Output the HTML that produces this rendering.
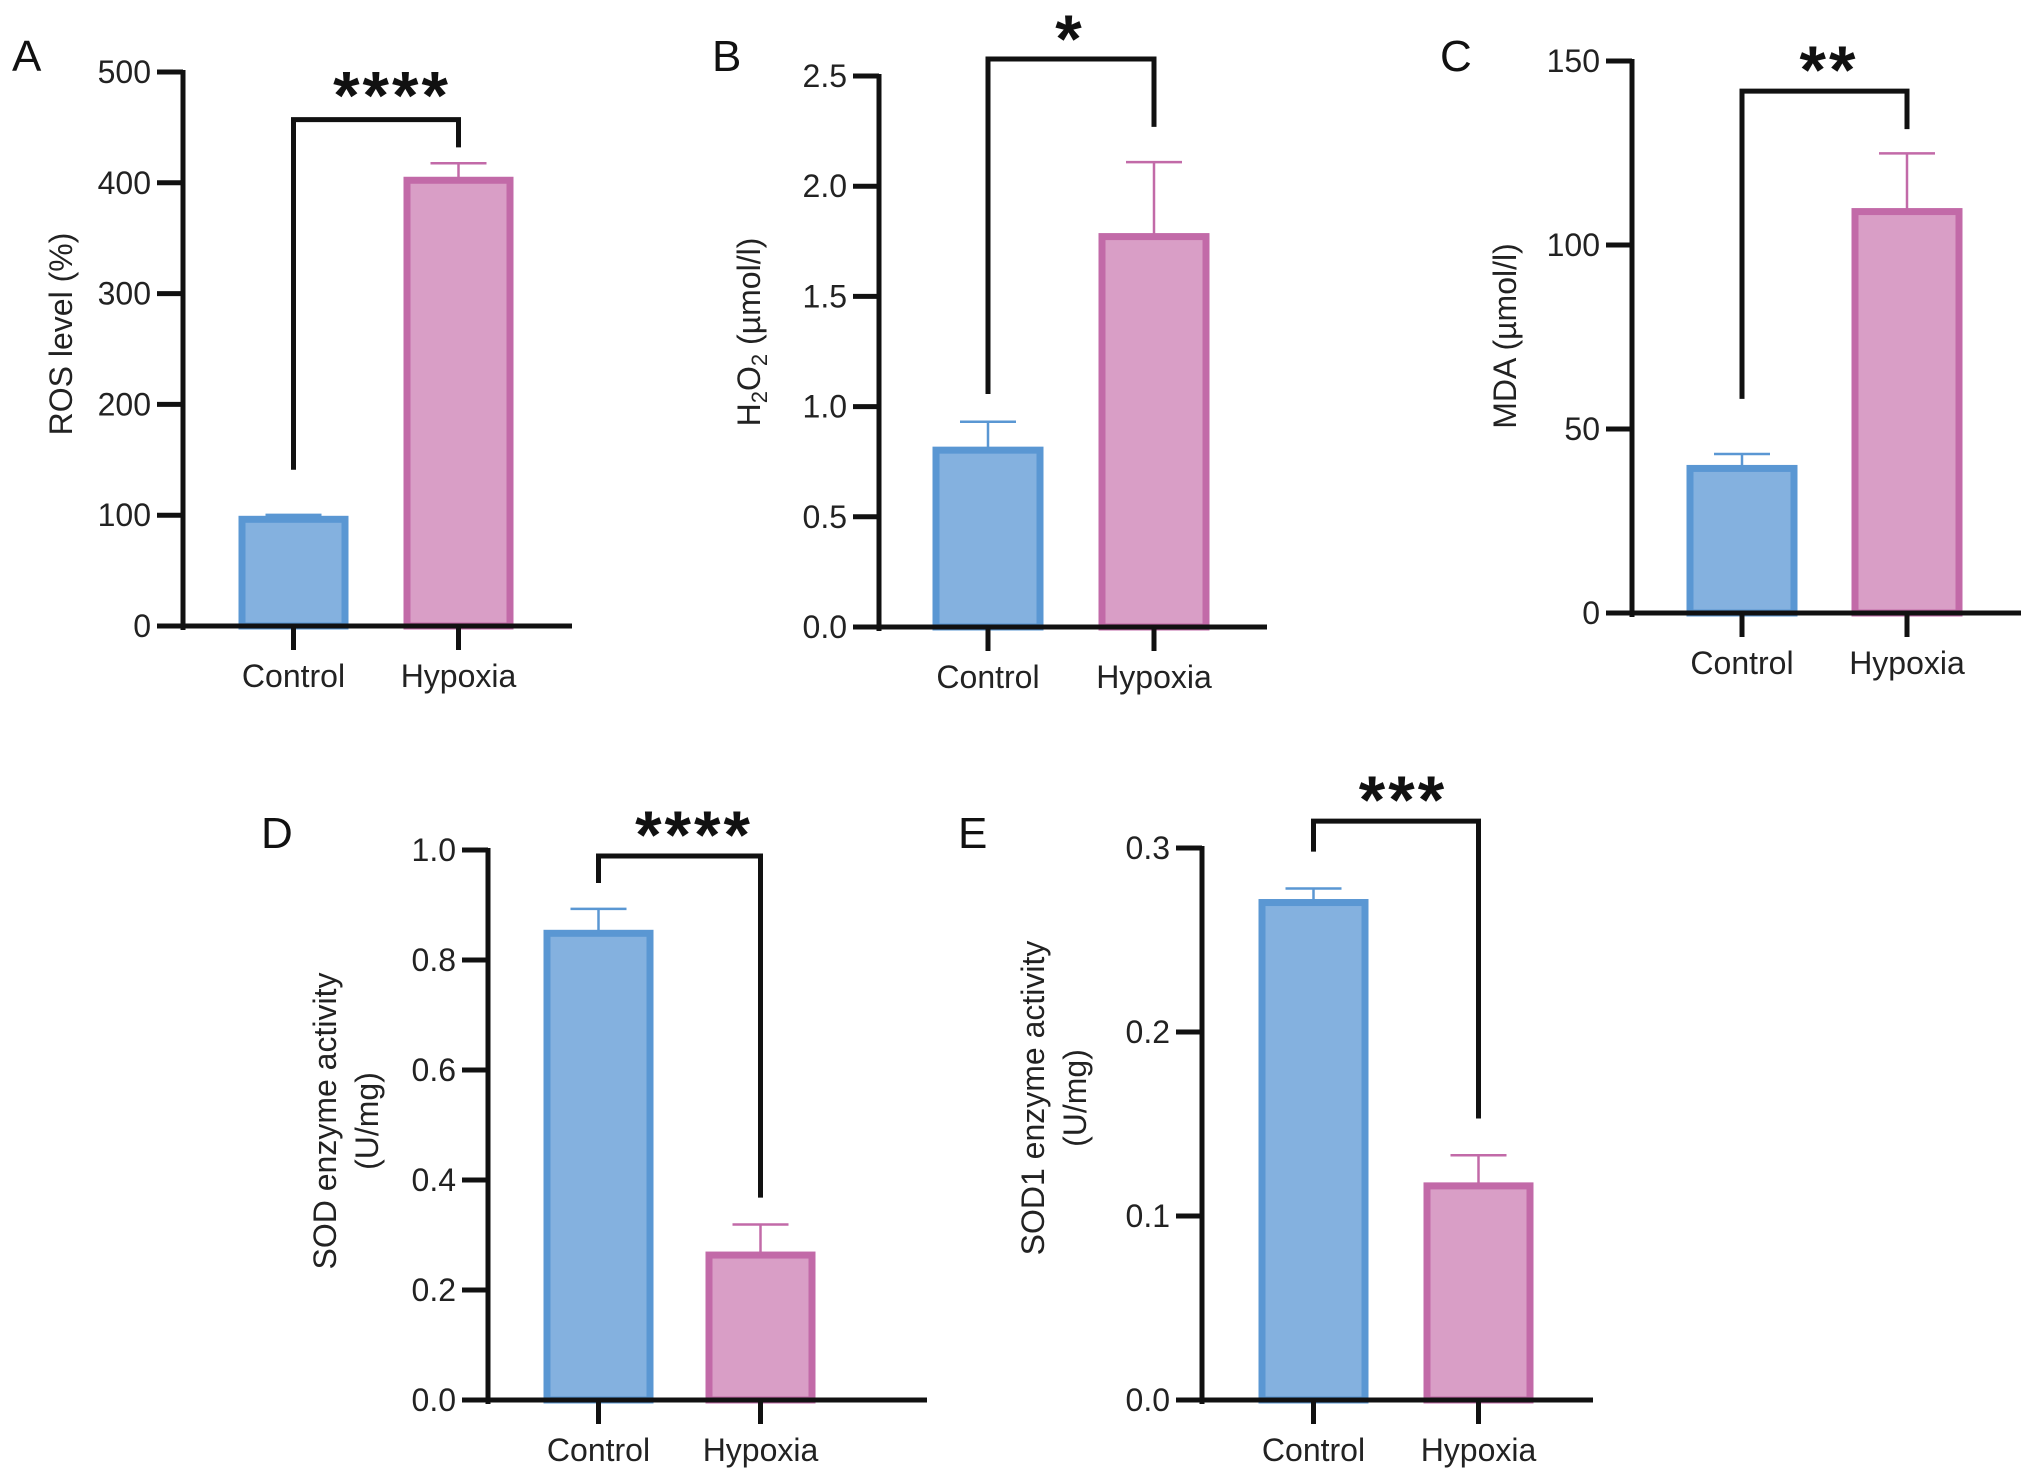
<!DOCTYPE html>
<html><head><meta charset="utf-8"><style>
html,body{margin:0;padding:0;background:#fff}
svg{display:block;font-family:"Liberation Sans",Arial,sans-serif}
</style></head><body>
<svg id="fig" width="2032" height="1481" viewBox="0 0 2032 1481" xmlns="http://www.w3.org/2000/svg"></svg>
<script>
const categories = ["Control", "Hypoxia"];
// Panel A
const aValues = [99, 405];
const aErrors = [100.3, 417.6];
const aTicks = [0, 100, 200, 300, 400, 500];
// Panel B
const bValues = [0.816, 1.785];
const bErrors = [0.931, 2.109];
const bTicks = [0, 0.5, 1.0, 1.5, 2.0, 2.5];
// Panel C
const cValues = [40.1, 109.9];
const cErrors = [43.2, 124.9];
const cTicks = [0, 50, 100, 150];
// Panel D
const dValues = [0.854, 0.269];
const dErrors = [0.893, 0.319];
const dTicks = [0, 0.2, 0.4, 0.6, 0.8, 1.0];
// Panel E
const eValues = [0.272, 0.118];
const eErrors = [0.278, 0.133];
const eTicks = [0, 0.1, 0.2, 0.3];

const NS = "http://www.w3.org/2000/svg";
const svg = document.getElementById('fig');
function mk(tag, attrs, parent) {
  const e = document.createElementNS(NS, tag);
  for (const k in attrs) e.setAttribute(k, attrs[k]);
  (parent || svg).appendChild(e);
  return e;
}
const fillC = ["#84b1df", "#d99ec6"], strokeC = ["#5a97d3", "#c26aa8"];

function panel(p) {
  const g = mk('g', {});
  
  
  const y = v => p.y0 - (v - 0) / p.max * (p.y0 - p.yTop);
  const L = mk('text', {x: p.lx, y: p.ly + 16, 'font-size': 44, fill: '#111'}, g);
  L.textContent = p.id;
  
  
  p.values.forEach((v, i) => {
    const bx = p.barX[i], bw = p.barW;
    const top = y(v);
    const r = mk('rect', {x: bx + 3, y: top + 3, width: bw - 6, height: p.y0 - top - 3, fill: fillC[i], stroke: strokeC[i], 'stroke-width': 7}, g);
    
    
    const cx = bx + bw / 2, et = y(p.errors[i]);
    const eg = mk('g', {stroke: strokeC[i], 'stroke-width': 2.5}, g);
    
    
    mk('line', {x1: cx, x2: cx, y1: top, y2: et}, eg);
    mk('line', {x1: cx - 28, x2: cx + 28, y1: et, y2: et}, eg);
  });
  const ax = mk('g', {stroke: '#111', 'stroke-width': 5, fill: 'none'}, g);
  
  
  mk('line', {x1: p.ax, x2: p.ax, y1: p.yTop - 2, y2: p.y0 + 4}, ax);
  mk('line', {x1: p.ax - 2, x2: p.xEnd, y1: p.y0, y2: p.y0}, ax);
  p.ticks.forEach(t => {
    mk('line', {x1: p.ax - 26, x2: p.ax, y1: y(t), y2: y(t)}, ax);
    const tl = mk('text', {x: p.ax - 32, y: y(t) + 11, 'font-size': 32, 'text-anchor': 'end', fill: '#222'}, g);
    tl.textContent = p.fmt(t);
    
    
  });
  categories.forEach((c, i) => {
    const cx = p.barX[i] + p.barW / 2;
    mk('line', {x1: cx, x2: cx, y1: p.y0, y2: p.y0 + 24}, ax);
    const cl = mk('text', {x: cx, y: p.y0 + 61, 'font-size': 32, 'text-anchor': 'middle', fill: '#222'}, g);
    cl.textContent = c;
    
    
  });
  const tg = mk('text', {transform: `translate(${p.tx},${p.ty}) rotate(-90)`, 'font-size': 32, 'text-anchor': 'middle', fill: '#222'}, g);
  
  
  p.title(tg);
  const c0 = p.barX[0] + p.barW / 2, c1 = p.barX[1] + p.barW / 2;
  const bt = y(p.br[0]);
  const br = mk('path', {d: `M${c0},${y(p.br[1])} V${bt} H${c1} V${y(p.br[2])}`, stroke: '#111', 'stroke-width': 5, fill: 'none'}, g);
  
  
  const st = mk('text', {x: p.sx, y: bt - p.sGap + 36, 'font-size': 68, 'font-weight': 'bold', 'text-anchor': 'middle', 'letter-spacing': 3, fill: '#111'}, g);
  st.textContent = p.stars;
  
  
}
function simpleTitle(lines, dy) {
  return tg => {
    lines.forEach((s, i) => {
      const ts = mk('tspan', {x: 0, dy: i === 0 ? (lines.length > 1 ? -dy / 2 + 11 : 11) : dy}, tg);
      ts.textContent = s;
    });
  };
}
const f0 = t => String(t), f1 = t => t.toFixed(1);
panel({id: 'A', lx: 12, ly: 55, ax: 183, yTop: 72, y0: 626, xEnd: 572, max: 500, ticks: aTicks, fmt: f0,
  values: aValues, errors: aErrors, barX: [239, 404], barW: 109,
  tx: 61, ty: 334, title: simpleTitle(['ROS level (%)']),
  br: [457, 141, 432], sx: 392, sGap: 37, stars: '****'});
panel({id: 'B', lx: 712, ly: 55, ax: 879, yTop: 76, y0: 627, xEnd: 1267, max: 2.5, ticks: bTicks, fmt: f1,
  values: bValues, errors: bErrors, barX: [933, 1099], barW: 110,
  tx: 749, ty: 332, title: tg => {
    const parts = [['H', 0], ['2', 1], ['O', 0], ['2', 1], [' (µmol/l)', 0]];
    let sub = false;
    parts.forEach(([s, isSub]) => {
      const ts = mk('tspan', {'font-size': isSub ? 22 : 32, dy: isSub && !sub ? 7 : (!isSub && sub ? -7 : 0)}, tg);
      if (!sub && !isSub && s === 'H') ts.setAttribute('dy', 11);
      sub = !!isSub;
      ts.textContent = s;
    });
  },
  br: [2.577, 1.057, 2.269], sx: 1070, sGap: 33, stars: '*'});
panel({id: 'C', lx: 1440, ly: 55, ax: 1632, yTop: 61, y0: 613, xEnd: 2021, max: 150, ticks: cTicks, fmt: f0,
  values: cValues, errors: cErrors, barX: [1687, 1852], barW: 110,
  tx: 1505, ty: 336, title: simpleTitle(['MDA (µmol/l)']),
  br: [141.8, 58.2, 131.5], sx: 1829, sGap: 34, stars: '**'});
panel({id: 'D', lx: 261, ly: 832, ax: 488, yTop: 850, y0: 1400, xEnd: 927, max: 1.0, ticks: dTicks, fmt: f1,
  values: dValues, errors: dErrors, barX: [544, 706], barW: 109,
  tx: 346, ty: 1121, title: simpleTitle(['SOD enzyme activity', '(U/mg)'], 42),
  br: [0.989, 0.940, 0.368], sx: 694, sGap: 34, stars: '****'});
panel({id: 'E', lx: 958, ly: 832, ax: 1202, yTop: 848, y0: 1400, xEnd: 1593, max: 0.3, ticks: eTicks, fmt: f1,
  values: eValues, errors: eErrors, barX: [1259, 1424], barW: 109,
  tx: 1054, ty: 1098, title: simpleTitle(['SOD1 enzyme activity', '(U/mg)'], 42),
  br: [0.3146, 0.298, 0.153], sx: 1403, sGap: 34, stars: '***'});
</script>
</body></html>
